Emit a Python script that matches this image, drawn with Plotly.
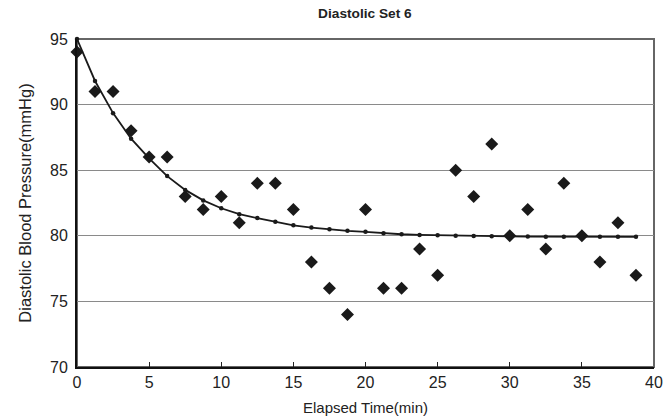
import plotly.graph_objects as go

# Observed data
time_min = [0, 1.25, 2.5, 3.75, 5, 6.25, 7.5, 8.75, 10, 11.25, 12.5, 13.75, 15, 16.25,
            17.5, 18.75, 20, 21.25, 22.5, 23.75, 25, 26.25, 27.5, 28.75, 30, 31.25,
            32.5, 33.75, 35, 36.25, 37.5, 38.75]
observed_bp = [94, 91, 91, 88, 86, 86, 83, 82, 83, 81, 84, 84, 82, 78, 76, 74, 82, 76,
               76, 79, 77, 85, 83, 87, 80, 82, 79, 84, 80, 78, 81, 77]
# Fitted curve
fitted_bp = [95, 91.8, 89.35, 87.4, 85.9, 84.55, 83.5, 82.7, 82.1, 81.65, 81.35, 81.07,
             80.8, 80.63, 80.5, 80.38, 80.3, 80.2, 80.12, 80.07, 80.04, 80.0, 79.98,
             79.96, 79.95, 79.94, 79.93, 79.93, 79.92, 79.92, 79.92, 79.92]

x_ticks = [0, 5, 10, 15, 20, 25, 30, 35, 40]
y_ticks = [70, 75, 80, 85, 90, 95]

FONT = "Liberation Sans, Arial, sans-serif"

fig = go.Figure()
fig.add_trace(go.Scatter(
    x=time_min, y=observed_bp, mode="markers",
    marker=dict(symbol="diamond", size=10, color="#1a1a1a"),
    showlegend=False, cliponaxis=False))
fig.add_trace(go.Scatter(
    x=time_min, y=fitted_bp, mode="lines+markers",
    line=dict(color="#1a1a1a", width=1.8),
    marker=dict(symbol="circle", size=4.5, color="#1a1a1a"),
    showlegend=False, cliponaxis=False))

# top/right frame in dark gray
fig.add_shape(type="rect", xref="paper", yref="paper", x0=0, x1=1, y0=0, y1=1,
              line=dict(color="#666666", width=2), layer="below")

fig.update_layout(
    width=672, height=416,
    margin=dict(l=77, r=18, t=39, b=49, autoexpand=False),
    paper_bgcolor="white", plot_bgcolor="white",
    font=dict(family=FONT, color="#222222", size=16),
    title=dict(text="<b>Diastolic Set 6</b>", x=0.543, xanchor="center",
               xref="container", y=0.968, yanchor="middle", yref="container",
               font=dict(size=13.7, family=FONT, color="#222222")),
    xaxis=dict(range=[0, 40], tickvals=x_ticks, ticks="inside", ticklen=5,
               tickcolor="#222222", showgrid=False, zeroline=False,
               showline=True, linecolor="#111111", linewidth=2, automargin=False,
               title=dict(text="Elapsed Time(min)", standoff=15,
                          font=dict(size=15, family=FONT)),
               tickfont=dict(size=16)),
    yaxis=dict(range=[70, 95], tickvals=y_ticks, ticks="", showgrid=True,
               gridcolor="#8a8a8a", gridwidth=1.2, zeroline=False,
               showline=True, linecolor="#111111", linewidth=2, automargin=False,
               ticklabelstandoff=4,
               title=dict(text="Diastolic Blood Pressure(mmHg)", standoff=14,
                          font=dict(size=16.5, family=FONT)),
               tickfont=dict(size=16)),
)

fig.write_html("out.html", config={"displayModeBar": False},
               post_script="document.body.style.margin='0';")
